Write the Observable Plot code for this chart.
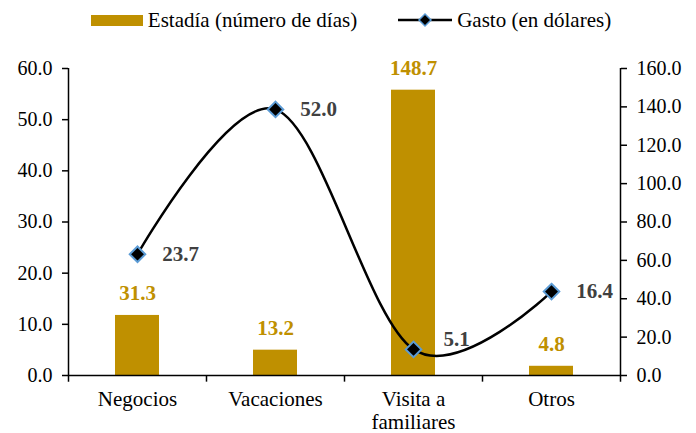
<!DOCTYPE html>
<html>
<head>
<meta charset="utf-8">
<script src="https://cdn.jsdelivr.net/npm/d3@7"></script>
<script src="https://cdn.jsdelivr.net/npm/@observablehq/plot@0.6"></script>
<style>
  html, body { margin: 0; padding: 0; background: #fff; }
  body { width: 696px; height: 433px; overflow: hidden; font-family: "Liberation Serif", "Times New Roman", serif; }
  #legend { height: 40px; display: flex; align-items: center; justify-content: center; font-size: 21px; color: #000; padding-left: 6px; box-sizing: border-box; }
  .item { display: flex; align-items: center; }
  .sw { width: 52px; height: 11px; background: #bf9000; margin-right: 5px; }
  .gap { width: 40px; }
</style>
</head>
<body>
<div id="legend">
  <div class="item"><div class="sw"></div><span>Estadía (número de días)</span></div>
  <div class="gap"></div>
  <div class="item">
    <svg width="56" height="16" style="margin-right:4px">
      <line x1="1" y1="8" x2="55" y2="8" stroke="#000" stroke-width="2.5"></line>
      <path d="M28,2 L34,8 L28,14 L22,8 Z" fill="#000" stroke="#5b9bd5" stroke-width="1.5"></path>
    </svg>
    <span>Gasto (en dólares)</span>
  </div>
</div>
<div id="chart"></div>
<script>
const categories = ["Negocios", "Vacaciones", "Visita a\nfamiliares", "Otros"];
const estadia = [31.3, 13.2, 148.7, 4.8];   // right axis (0–160)
const gasto = [23.7, 52.0, 5.1, 16.4];      // left axis (0–60)
const leftTicks = [0, 10, 20, 30, 40, 50, 60];
const rightTicks = [0, 20, 40, 60, 80, 100, 120, 140, 160];

const k = 60 / 160; // right-axis value -> left-axis units
const data = categories.map((c, i) => ({cat: c, estadia: estadia[i], gasto: gasto[i]}));

const half = (696 - 68 - 76) / categories.length / 2;
const lowLabel = d => d.gasto < 10;

const chart = Plot.plot({
  width: 696,
  height: 393,
  marginLeft: 68,
  marginRight: 76,
  marginTop: 28,
  marginBottom: 58,
  style: {fontFamily: "'Liberation Serif', 'Times New Roman', serif", fontSize: "21px", color: "#000", background: "#fff"},
  x: {domain: categories, padding: 0, axis: null, label: null},
  y: {domain: [0, 60], axis: null, label: null},
  marks: [
    Plot.barY(data, {x: "cat", y: d => d.estadia * k, fill: "#bf9000", insetLeft: 47, insetRight: 47}),
    Plot.ruleY([0], {stroke: "#000", strokeWidth: 1.5}),
    Plot.ruleX([categories[0]], {x: d => d, dx: -half, y1: -1.3, y2: 60, stroke: "#000", strokeWidth: 1.5}),
    Plot.ruleX([categories[categories.length - 1]], {x: d => d, dx: half, y1: -1.3, y2: 60, stroke: "#000", strokeWidth: 1.5}),
    Plot.ruleX(categories.slice(1), {x: d => d, dx: -half, y1: -1.3, y2: 0, stroke: "#000", strokeWidth: 1.5}),
    Plot.axisY(leftTicks, {anchor: "left", tickSize: 6, tickPadding: 10, strokeWidth: 1.5, tickFormat: d => d.toFixed(1), fontSize: 20, label: null}),
    Plot.axisY(rightTicks.map(v => v * k), {anchor: "right", tickSize: 6, tickPadding: 10, strokeWidth: 1.5, tickFormat: d => (d / k).toFixed(1), fontSize: 20, label: null}),
    Plot.axisX({tickSize: 0, tickPadding: 14, fontSize: 21, lineHeight: 1.1, label: null}),
    Plot.line(data, {x: "cat", y: "gasto", stroke: "#000", strokeWidth: 2.5, curve: "cardinal"}),
    Plot.dot(data, {x: "cat", y: "gasto", symbol: "diamond2", r: 7, fill: "#000", stroke: "#5b9bd5", strokeWidth: 2}),
    Plot.text(data, {x: "cat", y: d => d.estadia * k, text: d => d.estadia.toFixed(1), dy: -22, fill: "#bf9000", fontWeight: "bold", fontSize: 21}),
    Plot.text(data, {filter: d => !lowLabel(d), x: "cat", y: "gasto", text: d => d.gasto.toFixed(1), dx: 43, fill: "#404040", fontWeight: "bold", fontSize: 21}),
    Plot.text(data, {filter: lowLabel, x: "cat", y: "gasto", text: d => d.gasto.toFixed(1), dx: 43, dy: -10, fill: "#404040", fontWeight: "bold", fontSize: 21})
  ]
});
document.getElementById("chart").appendChild(chart);
</script>
</body>
</html>
